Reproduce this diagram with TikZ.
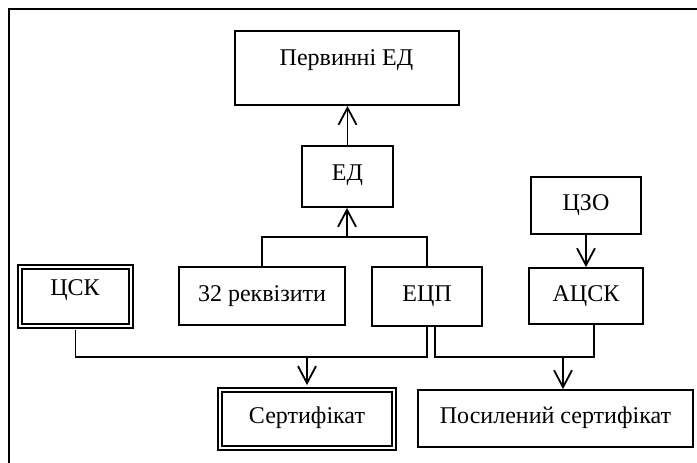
\documentclass[tikz,border=0pt]{standalone}
\usepackage{fontspec}
\setmainfont{Liberation Serif}
\usetikzlibrary{arrows.meta}
\begin{document}
\begin{tikzpicture}[x=1pt,y=-1pt,
  box/.style={draw, line width=1.8pt, inner sep=0pt},
  dbox/.style={draw, line width=1.9pt, double, double distance=2.6pt, inner sep=0pt},
  lbl/.style={anchor=base, inner sep=0pt, font=\fontsize{24}{28}\selectfont},
  conn/.style={line width=1.8pt},
  arr/.style={conn, -{Straight Barb[length=17pt,width=18pt]}}]
\useasboundingbox (0,0) rectangle (697,463);
% frame
\coordinate (fb) at (9,470);
\coordinate (fc) at (9,9);
\coordinate (fr) at (700,9);
\draw[line width=2.2pt] (fb) -- (fc) -- (fr);
% boxes
\node[box, minimum width=224pt, minimum height=74pt] (prim) at (347,68) {};
\node[box, minimum width=91pt, minimum height=61pt] (ed) at (347.5,176.5) {};
\node[box, minimum width=166pt, minimum height=58pt] (r32) at (262,296) {};
\node[box, minimum width=110pt, minimum height=59pt] (ecp) at (427,296.5) {};
\node[box, minimum width=110pt, minimum height=57pt] (cso) at (586,205.5) {};
\node[box, minimum width=114pt, minimum height=56pt] (acsk) at (586,296) {};
\node[box, minimum width=275pt, minimum height=57pt] (pos) at (555.5,418.5) {};
\node[dbox, minimum width=111pt, minimum height=59pt] (csk) at (75.5,296.5) {};
\node[dbox, minimum width=174pt, minimum height=58pt] (sert) at (307,419) {};
% labels
\node[lbl] (tprim) at (346.5,65) {Первинні ЕД};
\node[lbl] (ted) at (347.5,180) {ЕД};
\node[lbl] (t32) at (262,301) {32 реквізити};
\node[lbl] (tecp) at (427,301) {ЕЦП};
\node[lbl] (tcso) at (586,210) {ЦЗО};
\node[lbl] (tacsk) at (586,301) {АЦСК};
\node[lbl] (tpos) at (555.5,423) {Посилений сертифікат};
\node[lbl] (tcsk) at (75,295) {ЦСК};
\node[lbl] (tsert) at (307,423) {Сертифікат};
% connectors
\coordinate (j1) at (347,237);
\coordinate (j2) at (427,357);
\coordinate (j4) at (563,357);
\draw[arr] (ed.north) -- (ed.north |- prim.south);
\draw[conn] (r32.north) |- (j1) -| (ecp.north);
\draw[arr] (j1) -- (j1 |- ed.south);
\draw[conn] ([yshift=-3pt]csk.south) |- (j2) -- (ecp.south);
\draw[arr] (sert.north |- j2) -- ([yshift=4pt]sert.north);
\draw[conn] ([xshift=8pt]ecp.south) |- ([xshift=8pt]acsk.south |- j2) -- ([xshift=8pt]acsk.south);
\draw[arr] (j4) -- (j4 |- pos.north);
\draw[arr] (cso.south) -- (acsk.north);
\end{tikzpicture}
\end{document}
